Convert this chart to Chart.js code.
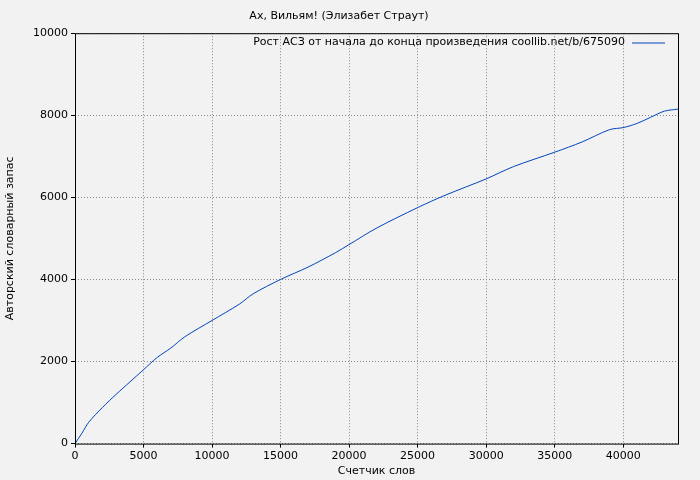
<!DOCTYPE html>
<html><head><meta charset="utf-8">
<script src="https://cdn.jsdelivr.net/npm/chart.js@4/dist/chart.umd.min.js"></script>
<style>html,body{margin:0;background:#f2f2f2}</style>
</head><body>
<div style="width:700px;height:480px"><canvas id="c"></canvas></div>
<script>
const words = [0,500,1000,2000,3000,4000,5000,6000,7000,8000,10000,12000,13000,15000,17000,19000,20000,22000,25000,27000,30000,32000,35000,37000,39000,40000,41000,42000,43000,44000]
const vocab = [0,250,520,880,1200,1500,1800,2100,2330,2600,3000,3400,3650,4000,4300,4650,4850,5250,5750,6050,6450,6750,7100,7350,7650,7700,7800,7950,8100,8150]
const xTicks = [0,5000,10000,15000,20000,25000,30000,35000,40000]
const legendText = 'Рост АСЗ от начала до конца произведения coollib.net/b/675090'
const font = {family:'DejaVu Sans', size:11}

const bg = {id:'bg', beforeDraw(ch){const c=ch.ctx;c.save();c.fillStyle='#f2f2f2';c.fillRect(0,0,ch.width,ch.height);c.restore()},
  afterDraw(ch){const c=ch.ctx,a=ch.chartArea;c.save();c.strokeStyle='#000';c.lineWidth=1;c.strokeRect(a.left+.5,a.top+.5,a.width,a.height)
    c.font='11px DejaVu Sans';c.fillStyle='#000';c.textAlign='right';c.textBaseline='middle';c.fillText(legendText,625,42)
    c.strokeStyle='#0044bb';c.beginPath();c.moveTo(632,43);c.lineTo(665,43);c.stroke();c.restore()}}

new Chart(document.getElementById('c'),{
  type:'line',
  data:{datasets:[{data:words.map((w,i)=>({x:w,y:vocab[i]})),borderColor:'#0044bb',borderWidth:1,pointRadius:0,tension:0.3}]},
  options:{responsive:true,maintainAspectRatio:false,animation:false,
    layout:{padding:{right:22,top:0,bottom:2}},
    plugins:{legend:{display:false},tooltip:{enabled:false},
      title:{display:true,text:'Ах, Вильям! (Элизабет Страут)',color:'#000',font:{family:'DejaVu Sans',size:11,weight:'normal'},padding:{top:10,bottom:10}}},
    scales:{
      x:{type:'linear',min:0,max:44000,
        afterBuildTicks(s){s.ticks=xTicks.map(v=>({value:v}))},
        ticks:{color:'#000',font:font,callback:v=>String(v),maxRotation:0,padding:2},
        title:{display:true,text:'Счетчик слов',color:'#000',font:font,padding:0},
        grid:{color:'#888',tickColor:'#000',tickLength:4},border:{display:false,dash:[1,2]}},
      y:{min:0,max:10000,ticks:{stepSize:2000,color:'#000',font:font,callback:v=>String(v)},
        title:{display:true,text:'Авторский словарный запас',color:'#000',font:font},
        grid:{color:'#888',tickColor:'#000',tickLength:4},border:{display:false,dash:[1,2]},
        afterFit(s){s.width=75}}
    }
  },
  plugins:[bg]
})
</script>
</body></html>
